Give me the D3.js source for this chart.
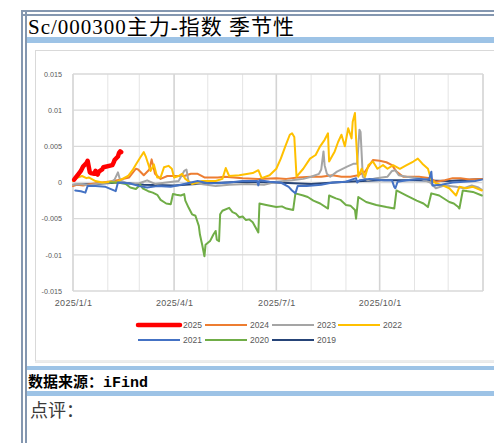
<!DOCTYPE html>
<html><head><meta charset="utf-8">
<script src="https://cdn.jsdelivr.net/npm/d3@7/dist/d3.min.js"></script>
<style>
html,body{margin:0;padding:0;background:#fff;}
svg{display:block;}
</style></head>
<body>
<svg id="c" width="494" height="443"></svg>
<script>
// ---------- data ----------
const titleText = "Sc/000300主力-指数 季节性";
const sourceText = "数据来源：iFind";
const commentText = "点评：";
const seriesNames = ["2025","2024","2023","2022","2021","2020","2019"];
const seriesColors = ["#FF0000","#ED7D31","#A5A5A5","#FFC000","#4472C4","#70AD47","#264478"];
const yTicks = [0.015,0.01,0.005,0,-0.005,-0.01,-0.015];
const yTickLabels = ["0.015","0.01","0.005","0","-0.005","-0.01","-0.015"];
const xTickDates = ["01-01","04-01","07-01","10-01"];
const xTickLabels = ["2025/1/1","2025/4/1","2025/7/1","2025/10/1"];

const s2025 = [["01-02",0.0004],["01-03",0.0006],["01-06",0.0012],["01-08",0.0016],["01-10",0.0022],["01-13",0.0027],["01-14",0.0030],["01-15",0.0022],["01-16",0.0014],["01-17",0.0013],["01-20",0.0012],["01-21",0.0016],["01-22",0.0012],["01-23",0.0011],["01-24",0.0015],["01-27",0.0018],["01-28",0.0021],["02-05",0.0024],["02-06",0.0027],["02-07",0.0031],["02-10",0.0036],["02-11",0.0041],["02-12",0.0043],["02-13",0.0042]];
const s2024 = [["01-01",-0.0005],["01-05",-0.0003],["01-10",-0.0004],["01-17",-0.0002],["01-27",0.0000],["02-06",0.0002],["02-15",0.0005],["02-20",0.0007],["02-26",0.0019],["02-28",0.0018],["03-05",0.0010],["03-10",0.0018],["03-12",0.0032],["03-15",0.0012],["03-20",0.0005],["03-26",0.0009],["04-04",0.0009],["04-10",0.0009],["04-16",0.0012],["04-22",0.0012],["04-28",0.0007],["05-10",0.0007],["05-16",0.0008],["06-01",0.0006],["06-15",0.0005],["07-01",0.0006],["07-10",0.0005],["07-20",0.0007],["08-01",0.0008],["08-10",0.0008],["08-20",0.0010],["08-28",0.0008],["09-05",0.0008],["09-12",0.0010],["09-18",0.0015],["09-25",0.0031],["10-01",0.0030],["10-07",0.0028],["10-12",0.0024],["10-16",0.0015],["10-22",0.0008],["11-05",0.0008],["11-15",0.0006],["11-20",0.0001],["11-28",0.0003],["12-05",0.0006],["12-12",0.0006],["12-20",0.0004],["12-31",0.0005]];
const s2023 = [["01-01",-0.0003],["01-08",-0.0002],["01-15",-0.0004],["01-25",-0.0001],["02-03",0.0000],["02-07",0.0004],["02-10",0.0014],["02-12",0.0003],["02-20",-0.0002],["03-01",-0.0001],["03-08",0.0003],["03-15",-0.0002],["03-25",0.0000],["04-05",0.0002],["04-10",0.0016],["04-12",0.0018],["04-14",0.0000],["04-25",-0.0002],["05-08",-0.0005],["05-20",-0.0003],["06-05",-0.0002],["06-20",-0.0003],["07-01",0.0001],["07-15",0.0003],["07-25",0.0005],["08-01",0.0008],["08-08",0.0012],["08-10",0.0018],["08-12",0.0043],["08-13",0.0024],["08-15",0.0012],["08-18",0.0008],["08-24",0.0015],["09-02",0.0022],["09-08",0.0026],["09-11",0.0026],["09-13",0.0073],["09-14",0.0070],["09-16",0.0008],["09-20",0.0003],["09-28",0.0006],["10-08",0.0008],["10-12",0.0016],["10-15",0.0017],["10-18",0.0010],["10-25",0.0008],["11-05",0.0006],["11-15",0.0000],["11-20",-0.0008],["11-28",-0.0004],["12-08",-0.0006],["12-15",-0.0008],["12-22",-0.0004],["12-28",-0.0007],["12-31",-0.0010]];
const s2022 = [["01-01",0.0002],["01-04",0.0006],["01-09",0.0009],["01-13",0.0006],["01-15",0.0007],["01-21",0.0002],["01-27",0.0000],["02-04",0.0001],["02-08",0.0000],["02-14",0.0005],["02-19",0.0009],["02-23",0.0017],["02-26",0.0025],["03-02",0.0035],["03-05",0.0042],["03-07",0.0035],["03-08",0.0030],["03-11",0.0016],["03-14",0.0025],["03-17",0.0007],["03-20",0.0007],["03-23",0.0021],["03-27",0.0023],["03-30",0.0019],["04-01",0.0007],["04-05",0.0009],["04-08",0.0012],["04-11",0.0005],["04-17",-0.0002],["04-26",0.0002],["05-08",0.0002],["05-14",0.0005],["05-17",0.0020],["05-20",0.0009],["05-29",0.0010],["06-10",0.0013],["06-15",0.0017],["06-18",0.0006],["06-25",0.0010],["07-01",0.0019],["07-05",0.0033],["07-09",0.0050],["07-13",0.0066],["07-15",0.0068],["07-17",0.0063],["07-19",0.0008],["07-25",0.0019],["07-31",0.0033],["08-05",0.0038],["08-09",0.0050],["08-13",0.0059],["08-16",0.0068],["08-17",0.0029],["08-22",0.0043],["08-25",0.0056],["08-28",0.0066],["08-31",0.0050],["09-03",0.0075],["09-06",0.0061],["09-07",0.0084],["09-09",0.0096],["09-10",0.0061],["09-12",0.0008],["09-15",0.0019],["09-18",0.0008],["09-21",0.0024],["09-25",0.0029],["09-29",0.0019],["10-04",0.0024],["10-08",0.0019],["10-13",0.0024],["10-19",0.0019],["10-25",0.0024],["10-31",0.0029],["11-04",0.0033],["11-08",0.0026],["11-13",0.0019],["11-16",0.0003],["11-20",-0.0001],["11-26",-0.0004],["12-02",-0.0008],["12-08",-0.0018],["12-11",-0.0006],["12-17",-0.0008],["12-23",-0.0006],["12-31",-0.0011]];
const s2021 = [["01-03",-0.0011],["01-08",-0.0012],["01-12",-0.0014],["01-14",-0.0005],["01-21",-0.0005],["01-30",-0.0006],["02-08",-0.0012],["02-10",0.0000],["02-20",-0.0001],["03-01",-0.0005],["03-08",-0.0007],["03-17",-0.0005],["03-29",-0.0006],["04-07",-0.0003],["04-16",0.0000],["04-22",0.0002],["05-01",-0.0001],["05-10",-0.0001],["05-20",0.0000],["06-01",0.0002],["06-14",0.0002],["06-15",-0.0004],["06-16",0.0003],["06-25",0.0001],["07-05",0.0000],["07-12",-0.0006],["07-15",-0.0011],["07-18",-0.0015],["07-20",-0.0005],["07-28",-0.0005],["08-10",-0.0003],["08-20",0.0000],["09-01",0.0001],["09-10",0.0006],["09-11",0.0000],["09-13",0.0003],["09-22",0.0005],["10-05",0.0003],["10-12",0.0003],["10-14",-0.0006],["10-15",-0.0008],["10-17",0.0001],["10-25",0.0003],["11-05",0.0005],["11-14",0.0004],["11-16",0.0015],["11-17",-0.0004],["11-25",-0.0003],["12-05",0.0000],["12-15",0.0001],["12-25",0.0002],["12-31",0.0004]];
const s2020 = [["02-03",0.0000],["02-10",0.0000],["02-17",-0.0002],["02-21",-0.0007],["02-26",-0.0009],["03-02",-0.0003],["03-04",-0.0008],["03-09",-0.0012],["03-13",-0.0014],["03-17",-0.0017],["03-20",-0.0024],["03-25",-0.0029],["03-29",-0.0030],["03-31",-0.0016],["04-03",-0.0017],["04-07",-0.0018],["04-10",-0.0016],["04-11",-0.0025],["04-14",-0.0035],["04-17",-0.0044],["04-20",-0.0046],["04-23",-0.0060],["04-24",-0.0072],["04-26",-0.0086],["04-28",-0.0102],["04-29",-0.0086],["05-03",-0.0081],["05-06",-0.0072],["05-08",-0.0067],["05-09",-0.0079],["05-11",-0.0081],["05-12",-0.0044],["05-14",-0.0039],["05-20",-0.0035],["05-23",-0.0041],["05-26",-0.0043],["05-29",-0.0048],["06-01",-0.0047],["06-04",-0.0052],["06-07",-0.0051],["06-10",-0.0055],["06-15",-0.0069],["06-16",-0.0029],["06-22",-0.0031],["07-01",-0.0034],["07-06",-0.0033],["07-10",-0.0036],["07-16",-0.0038],["07-18",-0.0015],["07-25",-0.0018],["07-29",-0.0020],["08-03",-0.0025],["08-09",-0.0029],["08-16",-0.0036],["08-17",-0.0018],["08-23",-0.0022],["08-27",-0.0024],["09-01",-0.0031],["09-05",-0.0032],["09-09",-0.0038],["09-10",-0.0050],["09-12",-0.0020],["09-19",-0.0027],["09-28",-0.0031],["10-07",-0.0034],["10-14",-0.0036],["10-16",-0.0011],["10-25",-0.0018],["11-03",-0.0025],["11-09",-0.0029],["11-13",-0.0034],["11-16",-0.0015],["11-23",-0.0018],["12-02",-0.0027],["12-06",-0.0029],["12-10",-0.0034],["12-11",-0.0036],["12-14",-0.0011],["12-23",-0.0013],["12-31",-0.0018]];
const s2019 = [["01-02",-0.0003],["01-20",-0.0002],["02-11",0.0000],["03-05",-0.0003],["04-01",-0.0004],["05-01",-0.0001],["06-01",0.0001],["07-01",0.0000],["08-01",-0.0002],["09-01",0.0001],["10-01",0.0003],["11-01",0.0003],["12-01",0.0002],["12-31",0.0005]];
const seriesData = [s2025,s2024,s2023,s2022,s2021,s2020,s2019];

// ---------- drawing ----------
const svg = d3.select("#c");
const toDate = s => { const [m,d] = s.split("-").map(Number); return new Date(2025, m-1, d); };

// page frame
const frameC = "#8497B0", barC = "#9DC3E6";
svg.append("rect").attr("x",0).attr("y",0).attr("width",494).attr("height",443).attr("fill","#fff");
svg.append("rect").attr("x",35.5).attr("y",50.5).attr("width",470).attr("height",310.5)
  .attr("fill","#fff").attr("stroke","#D9D9D9").attr("stroke-width",1);
svg.append("line").attr("x1",35).attr("x2",494).attr("y1",362.5).attr("y2",362.5).attr("stroke","#E8E8E8").attr("stroke-width",1);
[[37,6],[366,4],[391,5]].forEach(([yy,h]) => svg.append("rect").attr("x",27).attr("y",yy).attr("width",467).attr("height",h).attr("fill",barC));
[[10,2],[14,2]].forEach(([yy,h]) => svg.append("rect").attr("x",21).attr("y",yy).attr("width",473).attr("height",h).attr("fill",frameC));
[[21,2],[25,2]].forEach(([xx,w]) => svg.append("rect").attr("x",xx).attr("y",10).attr("width",w).attr("height",433).attr("fill",frameC));

// title + texts
svg.append("text").attr("x",28).attr("y",34).attr("font-family","'Liberation Serif','Noto Sans CJK SC',serif")
  .attr("font-size",21).attr("letter-spacing",1).attr("fill","#000").text(titleText);
svg.append("text").attr("x",28).attr("y",387).attr("font-family","'Liberation Mono','Noto Sans CJK SC',monospace")
  .attr("font-size",15).attr("font-weight","bold").attr("fill","#000").text(sourceText);
svg.append("text").attr("x",30).attr("y",417).attr("font-family","'Noto Sans CJK SC',sans-serif")
  .attr("font-size",18).attr("font-weight",400).attr("fill","#3a3a3a").text(commentText);

// scales
const x = d3.scaleTime().domain([new Date(2025,0,1), new Date(2026,0,1)]).range([73,483]);
const y = d3.scaleLinear().domain([-0.015,0.015]).range([291,74]);

// gridlines
const grid = svg.append("g");
d3.timeMonth.range(new Date(2025,0,1), new Date(2026,0,2)).forEach(d => {
  const q = d.getMonth() % 3 === 0;
  grid.append("line").attr("x1",x(d)).attr("x2",x(d)).attr("y1",y(0.015)).attr("y2",y(-0.015))
    .attr("stroke", q ? "#D4D4D4" : "#E4E4E4").attr("stroke-width", q ? 1.6 : 1);
});
yTicks.forEach(v => grid.append("line").attr("x1",73).attr("x2",483).attr("y1",y(v)).attr("y2",y(v))
  .attr("stroke","#D9D9D9").attr("stroke-width",1.4));

// axes
const yAxis = svg.append("g").attr("transform","translate(73,0)")
  .call(d3.axisLeft(y).tickValues(yTicks).tickSize(0).tickPadding(11).tickFormat((d,i) => yTickLabels[i]));
yAxis.select(".domain").remove();
yAxis.selectAll("text").attr("font-family","'Liberation Sans',Arial,sans-serif").attr("font-size",7.2).attr("fill","#595959");

const xAxis = svg.append("g").attr("transform","translate(0,291)")
  .call(d3.axisBottom(x).tickValues(xTickDates.map(toDate)).tickSize(0).tickPadding(9).tickFormat((d,i) => xTickLabels[i]));
xAxis.select(".domain").remove();
xAxis.selectAll("text").attr("font-family","'Liberation Sans',Arial,sans-serif").attr("font-size",9).attr("letter-spacing",0.3).attr("fill","#595959");

// lines (2019 at the bottom, 2025 on top)
const line = d3.line().x(d => x(toDate(d[0]))).y(d => y(d[1]));
const drawOrder = [6,1,2,3,5,4,0];
const plot = svg.append("g");
drawOrder.forEach(i => {
  plot.append("path").datum(seriesData[i]).attr("d", line).attr("fill","none")
    .attr("stroke", seriesColors[i]).attr("stroke-width", i === 0 ? 4.5 : 2)
    .attr("stroke-linejoin","round").attr("stroke-linecap","round");
});

// legend
const legend = svg.append("g");
const legX = [138,205,272,338];
seriesNames.forEach((n,i) => {
  const row = i < 4 ? 0 : 1, col = i < 4 ? i : i - 4;
  const lx = legX[col], ly = row === 0 ? 325 : 340;
  legend.append("line").attr("x1",lx).attr("x2",lx+42).attr("y1",ly).attr("y2",ly)
    .attr("stroke",seriesColors[i]).attr("stroke-width", i === 0 ? 4.5 : 2).attr("stroke-linecap", i===0?"round":"butt");
  legend.append("text").attr("x",lx+45).attr("y",ly+3).attr("font-family","'Liberation Sans',Arial,sans-serif")
    .attr("font-size",8.5).attr("fill","#595959").text(n);
});
</script>
</body></html>
